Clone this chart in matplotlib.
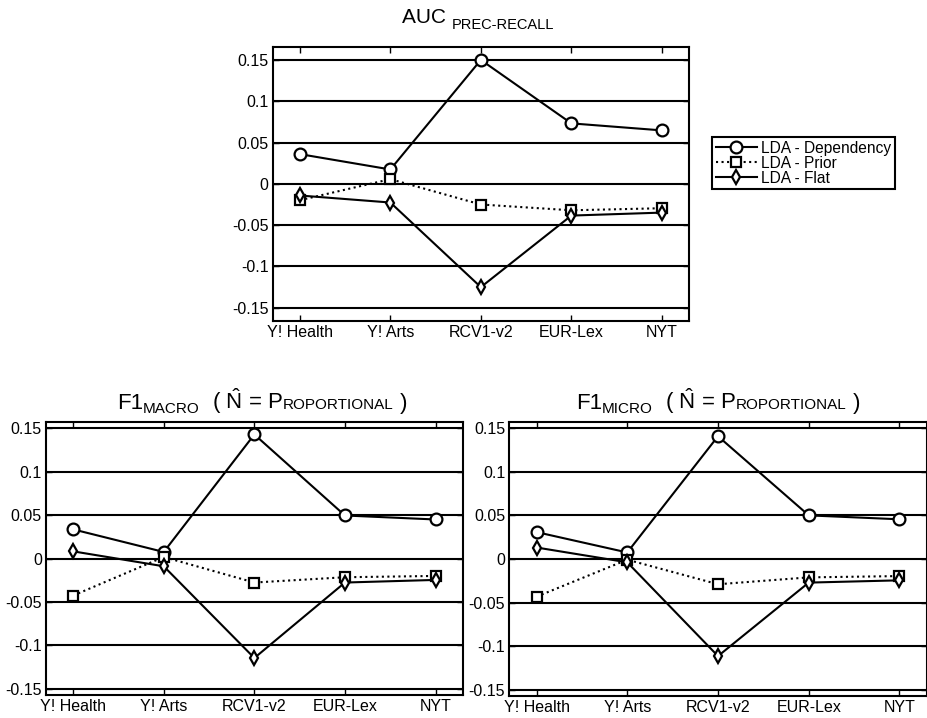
import numpy as np
import matplotlib
matplotlib.use('Agg')
import matplotlib.pyplot as plt

plt.rcParams['font.family'] = ['Liberation Sans', 'DejaVu Sans']
plt.rcParams['axes.unicode_minus'] = False
plt.rcParams['mathtext.fontset'] = 'custom'
plt.rcParams['mathtext.rm'] = 'Liberation Sans'

# data
datasets = ['Y! Health', 'Y! Arts', 'RCV1-v2', 'EUR-Lex', 'NYT']
series_names = ['LDA - Dependency', 'LDA - Prior', 'LDA - Flat']

auc_dep = [0.036, 0.0174, 0.150, 0.0732, 0.0647]
auc_prior = [-0.0198, 0.0057, -0.025, -0.032, -0.0295]
auc_flat = [-0.0141, -0.0226, -0.125, -0.0384, -0.0348]

macro_dep = [0.0337, 0.0077, 0.143, 0.0497, 0.0451]
macro_prior = [-0.0425, 0.0019, -0.0275, -0.0214, -0.0199]
macro_flat = [0.0084, -0.0088, -0.1144, -0.0275, -0.0245]

micro_dep = [0.0309, 0.0075, 0.141, 0.0501, 0.0456]
micro_prior = [-0.0433, -0.0008, -0.029, -0.0211, -0.0196]
micro_flat = [0.0132, -0.0038, -0.1115, -0.0271, -0.0245]

yticks = [-0.15, -0.1, -0.05, 0, 0.05, 0.1, 0.15]
ytick_labels = ['-0.15', '-0.1', '-0.05', '0', '0.05', '0.1', '0.15']

W, H = 928, 718
fig = plt.figure(figsize=(W / 100, H / 100), dpi=100)

# axes boxes in pixels: left, top, right, bottom
boxes = [(272.7, 46.7, 689.0, 321.0),
         (46.0, 422.3, 462.7, 695.0),
         (509.3, 422.3, 926.7, 695.7)]
ylims = [(-0.166, 0.166), (-0.157, 0.157), (-0.157, 0.157)]
all_data = [(auc_dep, auc_prior, auc_flat),
            (macro_dep, macro_prior, macro_flat),
            (micro_dep, micro_prior, micro_flat)]

styles = [dict(linestyle='-', marker='o', markersize=8.5),
          dict(linestyle=':', marker='s', markersize=6.5),
          dict(linestyle='-', marker='d', markersize=7)]

x = np.arange(1, len(datasets) + 1)
axes = []
for box, yl, data in zip(boxes, ylims, all_data):
    l, t, r, b = box
    ax = fig.add_axes([l / W, 1 - b / H, (r - l) / W, (b - t) / H])
    for vals, st in zip(data, styles):
        ax.plot(x, vals, color='black', linewidth=1.5, markerfacecolor='white',
                markeredgecolor='black', markeredgewidth=1.6, **st)
    ax.set_xlim(0.7, 5.3)
    ax.set_ylim(*yl)
    ax.set_xticks(x)
    ax.set_xticklabels(datasets, fontsize=11.5)
    ax.set_yticks(yticks)
    ax.set_yticklabels(ytick_labels, fontsize=11.5)
    ax.yaxis.grid(True, color='black', linewidth=1.5)
    ax.set_axisbelow(True)
    ax.tick_params(direction='in', top=True, right=True, length=4, width=1, pad=3)
    for s in ax.spines.values():
        s.set_linewidth(1.5)
    axes.append(ax)

leg = fig.legend(axes[0].get_lines(), series_names, loc='upper left',
                 bbox_to_anchor=(712.3 / W, 1 - 136.7 / H), fontsize=11.2,
                 fancybox=False, framealpha=1, edgecolor='black',
                 handlelength=2.6, borderpad=0.25, labelspacing=0.0,
                 handletextpad=0.3, borderaxespad=0)
leg.get_frame().set_linewidth(1.5)

# titles made of pieces: (text, size, baseline drop in px)
renderer = fig.canvas.get_renderer()


def rich_title(parts, cx, base):
    texts = [fig.text(0, 0, s, fontsize=fs, va='baseline', ha='left') for s, fs, dy in parts]
    widths = [t.get_window_extent(renderer).width for t in texts]
    x0 = cx - sum(widths) / 2
    for t, w, (s, fs, dy) in zip(texts, widths, parts):
        t.set_position((x0 / W, 1 - (base + dy) / H))
        x0 += w


rich_title([('AUC ', 15, 0), ('PREC-RECALL', 10.5, 5.5)], 478, 23.3)
rich_title([('F1', 16, 0), ('MACRO', 11, 3.5), ('  ( $\\hat{\\mathrm{N}}$ = P', 16, 0),
            ('ROPORTIONAL', 11, 0), (' )', 16, 0)], 262, 409.3)
rich_title([('F1', 16, 0), ('MICRO', 11, 3.5), ('  ( $\\hat{\\mathrm{N}}$ = P', 16, 0),
            ('ROPORTIONAL', 11, 0), (' )', 16, 0)], 718, 409.3)

fig.savefig('out.png', dpi=100)
